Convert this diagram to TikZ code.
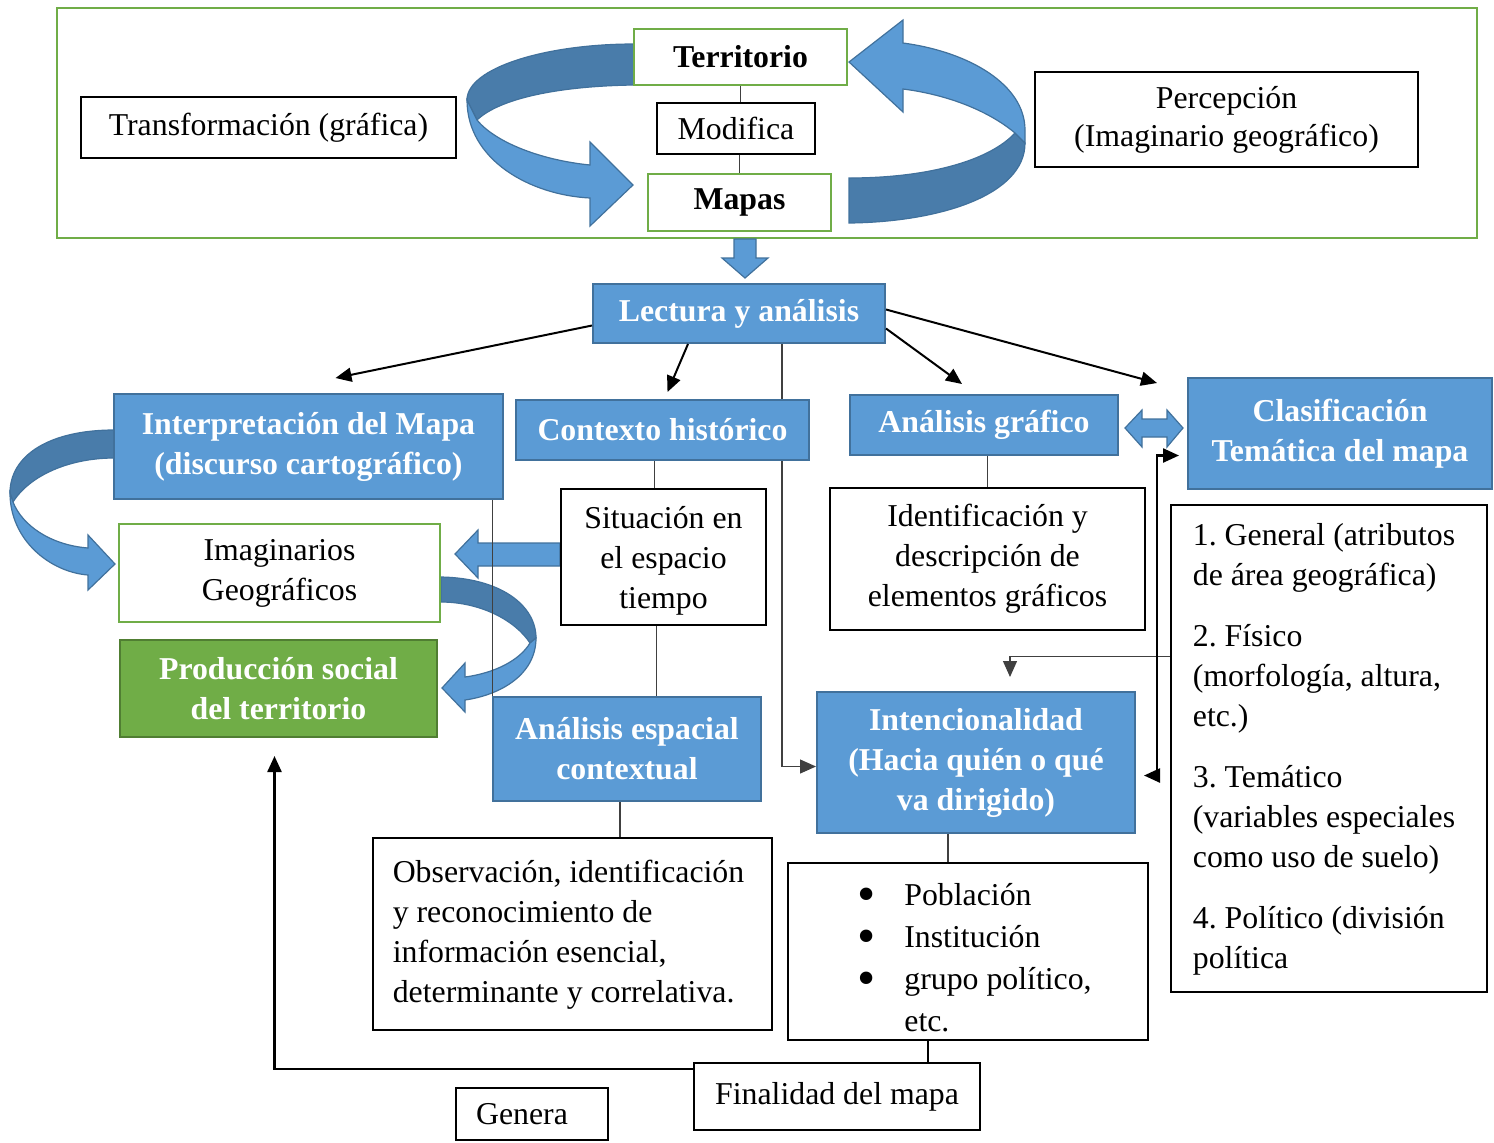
\documentclass[tikz,border=0pt]{standalone}
\usepackage{fontspec}
\setmainfont{Liberation Serif}
\usepackage{tikz}
\usetikzlibrary{calc,arrows.meta,backgrounds}
\definecolor{azul}{HTML}{5B9BD5}
\definecolor{azulborde}{HTML}{41719C}
\definecolor{azuloscuro}{HTML}{497CAA}
\definecolor{verde}{HTML}{70AD47}
\definecolor{verdeborde}{HTML}{507E32}
\frenchspacing
\newcommand{\fuente}{\fontsize{15.9}{20}\selectfont}
\newcommand{\vineta}{\raisebox{-3pt}{\fontsize{26}{20}\selectfont\textbullet}}

\tikzset{
  dim/.style 2 args={minimum width=#1*0.5pt, minimum height=#2*0.5pt},
  caja/.style={draw=black, line width=0.8pt, fill=white, inner sep=0pt, align=center, font=\fuente},
  cajaverde/.style={caja, draw=verde, line width=1pt},
  cajaazul/.style={caja, draw=azulborde, line width=1pt, fill=azul, text=white, font=\fuente\bfseries},
  cajaprod/.style={cajaazul, draw=verdeborde, fill=verde},
  linea/.style={black!75, line width=0.6pt},
  flecha/.style={black, line width=1pt, ->},
  cinta/.style={fill=azul, draw=azulborde, line width=0.6pt},
  cintaosc/.style={fill=azuloscuro, draw=azulborde, line width=0.6pt},
}

\begin{document}
\begin{tikzpicture}[x=0.5pt,y=-0.5pt,>={Triangle[length=8pt,width=7pt]}]
\useasboundingbox (0,0) rectangle (1494,1142);

% marco superior
\draw[verde, line width=1pt] (57,8) rectangle (1477,238);

% cintas curvas
\draw[cintaosc] (634,44) .. controls (545,44) and (467,68) .. (467,100) -- (477,120) .. controls (500,98) and (560,86) .. (634,85) -- cycle;
\draw[cinta] (467,100) .. controls (467,160) and (530,195) .. (590,198) -- (590,226) -- (633,185) -- (590,142) -- (590,165) .. controls (540,160) and (495,142) .. (477,120) -- cycle;

\draw[cintaosc] (1015,133) -- (1025,143) .. controls (1025,195) and (940,222) .. (849,223) -- (849,178) .. controls (930,178) and (990,160) .. (1015,133) -- cycle;
\draw[cinta] (903,43) .. controls (970,52) and (1025,85) .. (1025,130) -- (1025,143) -- (1015,133) .. controls (990,112) and (950,95) .. (903,89) -- (903,112) -- (849,62) -- (903,20) -- cycle;

\draw[cintaosc] (114,430) .. controls (50,430) and (10,455) .. (10,493) -- (13,502) .. controls (30,475) and (70,458) .. (114,458) -- cycle;
\draw[cinta] (10,493) .. controls (10,540) and (50,572) .. (88,575) -- (88,590) -- (115,564) -- (88,535) -- (88,548) .. controls (50,545) and (22,525) .. (13,502) -- cycle;

\draw[cintaosc] (441,577) .. controls (500,578) and (536,605) .. (536,638) -- (530,643) .. controls (515,620) and (480,602) .. (441,602) -- cycle;
\draw[cinta] (536,638) .. controls (536,675) and (500,695) .. (465,700) -- (465,712) -- (442,688) -- (465,663) -- (465,677) .. controls (495,673) and (520,660) .. (530,643) -- cycle;

% flechas de bloque
\draw[cinta] (734,239) -- (756,239) -- (756,258) -- (768,258) -- (745,278) -- (722,258) -- (734,258) -- cycle;
\draw[cinta] (560,543) -- (478,543) -- (478,530) -- (455,554) -- (478,578) -- (478,566) -- (560,566) -- cycle;
\draw[cinta] (1125,428) -- (1142,410) -- (1142,419) -- (1167,419) -- (1167,410) -- (1183,428) -- (1167,447) -- (1167,437) -- (1142,437) -- (1142,447) -- cycle;

% nodos
\node[cajaverde, dim={213}{56}, font=\fuente\bfseries] (terr) at (740.5,57) {Territorio};
\node[caja, dim={158}{51}] (modif) at (736,128.5) {Modifica};
\node[cajaverde, dim={183}{57}, font=\fuente\bfseries] (mapas) at (739.5,202.5) {Mapas};
\node[caja, dim={375}{61}] (transf) at (268.5,127.5) {Transformación (gráfica)};
\node[caja, dim={383}{95}] (percep) at (1226.5,119.5) {Percepción\\[-1pt](Imaginario geográfico)};

\node[cajaazul, dim={292}{59}] (lectura) at (739,313.5) {Lectura y análisis};
\node[cajaazul, dim={389}{105}] (interp) at (308.5,446.5) {Interpretación del Mapa\\(discurso cartográfico)};
\node[cajaazul, dim={293}{60}] (contexto) at (662.5,430) {Contexto histórico};
\node[cajaazul, dim={268}{60}] (grafico) at (984,425) {Análisis gráfico};
\node[cajaazul, dim={304}{111}] (clasif) at (1340,433.5) {Clasificación\\Temática del mapa};
\node[caja, dim={205}{136}] (situacion) at (663.5,557) {\raisebox{-2pt}[\height][\depth]{Situación en}\\\raisebox{-2pt}[\height][\depth]{el espacio}\\\raisebox{-2pt}[\height][\depth]{tiempo}};
\node[caja, dim={315}{142}] (identif) at (987.5,559) {Identificación y\\descripción de\\elementos gráficos};
\node[cajaverde, dim={321}{98}] (imagin) at (279.5,573) {Imaginarios\\Geográficos};
\node[cajaprod, dim={317}{97}] (produc) at (278.5,688.5) {Producción social\\del territorio};
\node[cajaazul, dim={268}{104}] (espacial) at (627,749) {Análisis espacial\\contextual};
\node[cajaazul, dim={318}{141}] (intenc) at (976,762.5) {Intencionalidad\\(Hacia quién o qué\\va dirigido)};
\node[caja, dim={316}{487}] (lista) at (1329,748.5) {\begin{tabular}{@{}l@{\hspace{5pt}}}
1. General (atributos\\de área geográfica)\\[10.5pt]
2. Físico\\(morfología, altura,\\etc.)\\[10.5pt]
3. Temático\\(variables especiales\\como uso de suelo)\\[10.5pt]
4. Político (división\\política
\end{tabular}};
\node[caja, dim={399}{192}] (observ) at (572.5,934) {\begin{tabular}{@{}l@{\hspace{4pt}}}
Observación, identificación\\y reconocimiento de\\información esencial,\\determinante y correlativa.
\end{tabular}};
\node[caja, dim={360}{177}] (bullets) at (968,951.5) {\raisebox{-4.5pt}[\height][\depth]{\begin{tabular}{@{\hspace{6.5pt}}l@{\hspace{14.4pt}}l@{}}
\vineta & Población\\[1pt]
\vineta & Institución\\[1pt]
\vineta & grupo político,\\[1pt]
 & etc.
\end{tabular}}};
\node[caja, dim={286}{67}] (final) at (837,1096.5) {Finalidad del mapa};
\node[caja, dim={152}{52}] (genera) at (532,1114) {Genera\hspace{10pt}};

% conectores
\draw[linea] (terr.south) -- (terr.south |- modif.north);
\draw[linea] (modif.south -| mapas.north) -- (mapas.north);

\draw[flecha] ($(lectura.west)+(0,12)$) -- ($(interp.north)+(27,-15)$);
\draw[flecha] ($(lectura.south)+(-51,0)$) -- ($(contexto.north)+(5,-7)$);
\draw[flecha] ($(lectura.east)+(0,15)$) -- ($(grafico.north)+(-22,-10)$);
\draw[flecha] ($(lectura.east)+(0,-4)$) -- ($(clasif.north west)+(-30,6)$);
\begin{pgfonlayer}{background}
\draw[linea,->] ($(lectura.south)+(43,0)$) |- ($(intenc.west)+(0,4)$);
\end{pgfonlayer}

\draw[linea] ($(contexto.south)+(-8,0)$) coordinate (c1) -- (c1 |- situacion.north);
\draw[linea] ($(situacion.south)+(-7,0)$) coordinate (s1) -- (s1 |- espacial.north);
\draw[linea] ($(interp.south)+(184,0)$) coordinate (i1) -- (i1 |- espacial.north);
\draw[linea] ($(espacial.south)+(-7,0)$) coordinate (e1) -- (e1 |- observ.north);
\draw[linea] (grafico.south -| identif.north) -- (identif.north);
\draw[linea] ($(intenc.south)+(-28,0)$) coordinate (n1) -- (n1 |- bullets.north);
\draw[black, line width=1pt] ($(bullets.south)+(-40,0)$) coordinate (b1) -- (b1 |- final.north);

\draw[black, line width=1.2pt, ->] ($(final.north west)+(0,7)$) -| ($(produc.south)+(-4,18)$);
\draw[linea, ->] ($(lista.west)+(0,-92)$) -| ($(intenc.north)+(34,-14)$);
\draw[black, line width=1.2pt, <->] ($(clasif.west)+(-8,22)$) -- ++(-22,0) |- ($(intenc.east)+(8,13)$);
\end{tikzpicture}
\end{document}
